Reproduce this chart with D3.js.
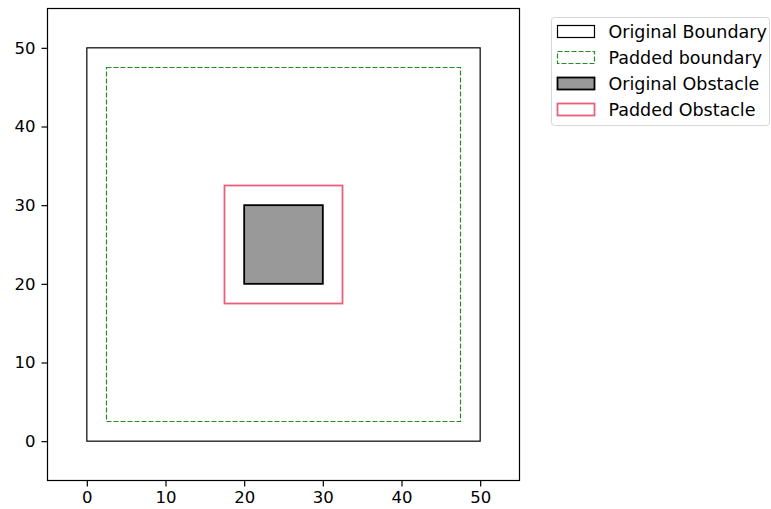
<!DOCTYPE html>
<html>
<head>
<meta charset="utf-8">
<script src="https://cdn.jsdelivr.net/npm/d3@7"></script>
<style>
  body { margin: 0; background: #fff; }
  text { font-family: "DejaVu Sans", sans-serif; }
</style>
</head>
<body>
<svg id="chart" width="771" height="509"></svg>
<script>
// rectangles as [x0, y0, x1, y1]
const boundary = [0, 0, 50, 50];
const paddedBoundary = [2.5, 2.5, 47.5, 47.5];
const obstacle = [20, 20, 30, 30];
const paddedObstacle = [17.5, 17.5, 32.5, 32.5];
const xTicks = [0, 10, 20, 30, 40, 50];
const yTicks = [0, 10, 20, 30, 40, 50];
const legendLabels = ['Original Boundary', 'Padded boundary', 'Original Obstacle', 'Padded Obstacle'];

const svg = d3.select('#chart');
const m = { left: 47.5, top: 8.5, right: 519.5, bottom: 480.5 };
const fontSize = 16.5;

const x = d3.scaleLinear().domain([-5, 55]).range([m.left, m.right]);
const y = d3.scaleLinear().domain([-5, 55]).range([m.bottom, m.top]);

const styles = [
  { fill: 'none', stroke: '#000', width: 1.2, dash: null },
  { fill: 'none', stroke: '#2a8a2a', width: 1.2, dash: '5,2' },
  { fill: '#999999', stroke: '#000', width: 1.8, dash: null },
  { fill: 'none', stroke: '#e8617a', width: 1.8, dash: null },
];
const rects = [boundary, paddedBoundary, obstacle, paddedObstacle];

const plot = svg.append('g');
rects.forEach((r, i) => {
  const s = styles[i];
  plot.append('rect')
    .attr('x', x(r[0]))
    .attr('y', y(r[3]))
    .attr('width', x(r[2]) - x(r[0]))
    .attr('height', y(r[1]) - y(r[3]))
    .attr('fill', s.fill)
    .attr('stroke', s.stroke)
    .attr('stroke-width', s.width)
    .attr('stroke-dasharray', s.dash);
});

// axes
const xAxis = svg.append('g')
  .attr('transform', `translate(0,${m.bottom})`)
  .call(d3.axisBottom(x).tickValues(xTicks).tickSize(6).tickPadding(5).tickSizeOuter(0));
const yAxis = svg.append('g')
  .attr('transform', `translate(${m.left},0)`)
  .call(d3.axisLeft(y).tickValues(yTicks).tickSize(6).tickPadding(6).tickSizeOuter(0));
[xAxis, yAxis].forEach((a) => {
  a.select('.domain').remove();
  a.selectAll('text').attr('font-size', fontSize).attr('fill', '#000')
    .style('font-family', '"DejaVu Sans", sans-serif');
  a.selectAll('line').attr('stroke', '#000').attr('stroke-width', 1.2);
});

svg.append('rect')
  .attr('x', m.left).attr('y', m.top)
  .attr('width', m.right - m.left).attr('height', m.bottom - m.top)
  .attr('fill', 'none').attr('stroke', '#000').attr('stroke-width', 1.2);

// legend
const lg = svg.append('g').attr('transform', 'translate(551.5,17.5)');
lg.append('rect')
  .attr('width', 218).attr('height', 108).attr('rx', 3)
  .attr('fill', '#fff').attr('stroke', '#d6d6d6').attr('stroke-width', 1);
legendLabels.forEach((label, i) => {
  const s = styles[i];
  const ly = 14 + i * 26;
  lg.append('rect')
    .attr('x', 6).attr('y', ly - 6)
    .attr('width', 37).attr('height', 12)
    .attr('fill', s.fill === 'none' ? '#fff' : s.fill)
    .attr('stroke', s.stroke)
    .attr('stroke-width', s.width)
    .attr('stroke-dasharray', s.dash);
  lg.append('text')
    .attr('x', 57).attr('y', ly)
    .attr('dy', '0.35em')
    .attr('font-size', 17.5)
    .text(label);
});
</script>
</body>
</html>
